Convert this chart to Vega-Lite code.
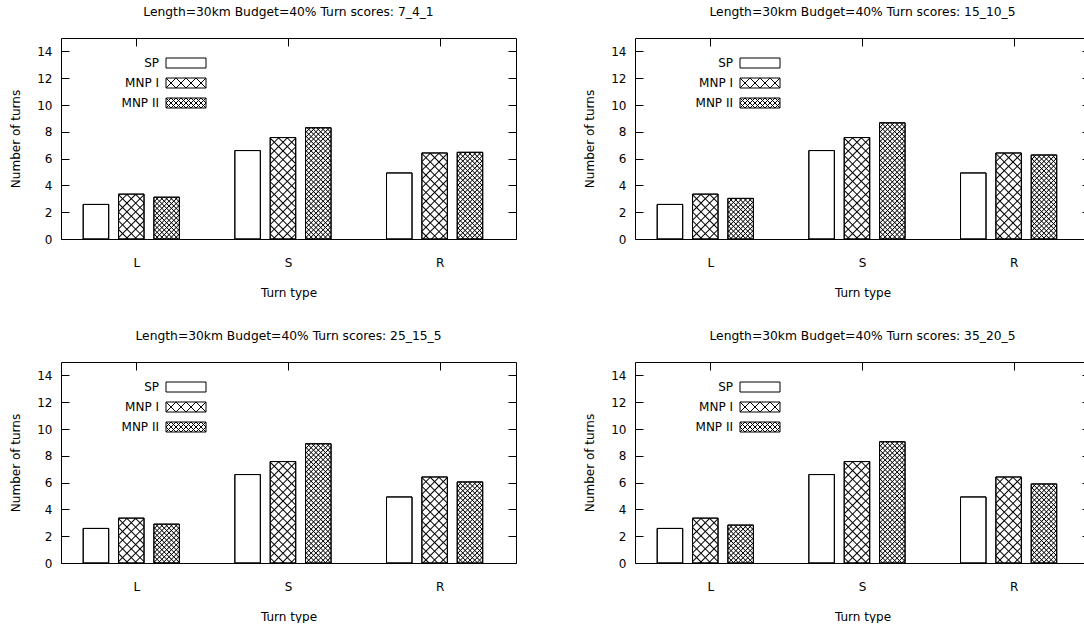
{
"$schema":"https://vega.github.io/schema/vega-lite/v6.json",
"padding":{"left":9,"top":5,"right":0,"bottom":0},
"datasets":{
"p1":[{"turn":"L","method":"SP","value":2.58},{"turn":"L","method":"MNP I","value":3.35},{"turn":"L","method":"MNP II","value":3.12},{"turn":"S","method":"SP","value":6.6},{"turn":"S","method":"MNP I","value":7.57},{"turn":"S","method":"MNP II","value":8.3},{"turn":"R","method":"SP","value":4.93},{"turn":"R","method":"MNP I","value":6.42},{"turn":"R","method":"MNP II","value":6.47}],
"p2":[{"turn":"L","method":"SP","value":2.58},{"turn":"L","method":"MNP I","value":3.35},{"turn":"L","method":"MNP II","value":3.03},{"turn":"S","method":"SP","value":6.6},{"turn":"S","method":"MNP I","value":7.57},{"turn":"S","method":"MNP II","value":8.67},{"turn":"R","method":"SP","value":4.93},{"turn":"R","method":"MNP I","value":6.42},{"turn":"R","method":"MNP II","value":6.27}],
"p3":[{"turn":"L","method":"SP","value":2.58},{"turn":"L","method":"MNP I","value":3.35},{"turn":"L","method":"MNP II","value":2.9},{"turn":"S","method":"SP","value":6.6},{"turn":"S","method":"MNP I","value":7.57},{"turn":"S","method":"MNP II","value":8.9},{"turn":"R","method":"SP","value":4.93},{"turn":"R","method":"MNP I","value":6.42},{"turn":"R","method":"MNP II","value":6.05}],
"p4":[{"turn":"L","method":"SP","value":2.58},{"turn":"L","method":"MNP I","value":3.35},{"turn":"L","method":"MNP II","value":2.83},{"turn":"S","method":"SP","value":6.6},{"turn":"S","method":"MNP I","value":7.57},{"turn":"S","method":"MNP II","value":9.05},{"turn":"R","method":"SP","value":4.93},{"turn":"R","method":"MNP I","value":6.42},{"turn":"R","method":"MNP II","value":5.9}]
},
"config":{
"font":"DejaVu Sans",
"view":{"stroke":"black","strokeWidth":1},
"axis":{"domain":false,"grid":false,"labelFont":"DejaVu Sans","labelFontSize":12,"labelColor":"black","titleFont":"DejaVu Sans","titleFontSize":12,"titleFontWeight":"normal","titleColor":"black","tickColor":"black","tickWidth":1,"tickSize":-8},
"title":{"font":"DejaVu Sans","fontSize":12.3,"fontWeight":"normal","color":"black","offset":19},
"style":{
"hIa":{"color":{"gradient":"linear","x1":0,"y1":0,"x2":0.1479,"y2":1.1132,"stops":[{"offset":0,"color":"#000"},{"offset":0.0065,"color":"transparent"},{"offset":0.0335,"color":"transparent"},{"offset":0.04,"color":"#000"},{"offset":0.0465,"color":"transparent"},{"offset":0.0735,"color":"transparent"},{"offset":0.08,"color":"#000"},{"offset":0.0865,"color":"transparent"},{"offset":0.1135,"color":"transparent"},{"offset":0.12,"color":"#000"},{"offset":0.1265,"color":"transparent"},{"offset":0.1535,"color":"transparent"},{"offset":0.16,"color":"#000"},{"offset":0.1665,"color":"transparent"},{"offset":0.1935,"color":"transparent"},{"offset":0.2,"color":"#000"},{"offset":0.2065,"color":"transparent"},{"offset":0.2335,"color":"transparent"},{"offset":0.24,"color":"#000"},{"offset":0.2465,"color":"transparent"},{"offset":0.2735,"color":"transparent"},{"offset":0.28,"color":"#000"},{"offset":0.2865,"color":"transparent"},{"offset":0.3135,"color":"transparent"},{"offset":0.32,"color":"#000"},{"offset":0.3265,"color":"transparent"},{"offset":0.3535,"color":"transparent"},{"offset":0.36,"color":"#000"},{"offset":0.3665,"color":"transparent"},{"offset":0.3935,"color":"transparent"},{"offset":0.4,"color":"#000"},{"offset":0.4065,"color":"transparent"},{"offset":0.4335,"color":"transparent"},{"offset":0.44,"color":"#000"},{"offset":0.4465,"color":"transparent"},{"offset":0.4735,"color":"transparent"},{"offset":0.48,"color":"#000"},{"offset":0.4865,"color":"transparent"},{"offset":0.5135,"color":"transparent"},{"offset":0.52,"color":"#000"},{"offset":0.5265,"color":"transparent"},{"offset":0.5535,"color":"transparent"},{"offset":0.56,"color":"#000"},{"offset":0.5665,"color":"transparent"},{"offset":0.5935,"color":"transparent"},{"offset":0.6,"color":"#000"},{"offset":0.6065,"color":"transparent"},{"offset":0.6335,"color":"transparent"},{"offset":0.64,"color":"#000"},{"offset":0.6465,"color":"transparent"},{"offset":0.6735,"color":"transparent"},{"offset":0.68,"color":"#000"},{"offset":0.6865,"color":"transparent"},{"offset":0.7135,"color":"transparent"},{"offset":0.72,"color":"#000"},{"offset":0.7265,"color":"transparent"}]}},
"hIb":{"color":{"gradient":"linear","x1":1,"y1":0,"x2":0.8521,"y2":1.1132,"stops":[{"offset":0,"color":"#000"},{"offset":0.0065,"color":"transparent"},{"offset":0.0335,"color":"transparent"},{"offset":0.04,"color":"#000"},{"offset":0.0465,"color":"transparent"},{"offset":0.0735,"color":"transparent"},{"offset":0.08,"color":"#000"},{"offset":0.0865,"color":"transparent"},{"offset":0.1135,"color":"transparent"},{"offset":0.12,"color":"#000"},{"offset":0.1265,"color":"transparent"},{"offset":0.1535,"color":"transparent"},{"offset":0.16,"color":"#000"},{"offset":0.1665,"color":"transparent"},{"offset":0.1935,"color":"transparent"},{"offset":0.2,"color":"#000"},{"offset":0.2065,"color":"transparent"},{"offset":0.2335,"color":"transparent"},{"offset":0.24,"color":"#000"},{"offset":0.2465,"color":"transparent"},{"offset":0.2735,"color":"transparent"},{"offset":0.28,"color":"#000"},{"offset":0.2865,"color":"transparent"},{"offset":0.3135,"color":"transparent"},{"offset":0.32,"color":"#000"},{"offset":0.3265,"color":"transparent"},{"offset":0.3535,"color":"transparent"},{"offset":0.36,"color":"#000"},{"offset":0.3665,"color":"transparent"},{"offset":0.3935,"color":"transparent"},{"offset":0.4,"color":"#000"},{"offset":0.4065,"color":"transparent"},{"offset":0.4335,"color":"transparent"},{"offset":0.44,"color":"#000"},{"offset":0.4465,"color":"transparent"},{"offset":0.4735,"color":"transparent"},{"offset":0.48,"color":"#000"},{"offset":0.4865,"color":"transparent"},{"offset":0.5135,"color":"transparent"},{"offset":0.52,"color":"#000"},{"offset":0.5265,"color":"transparent"},{"offset":0.5535,"color":"transparent"},{"offset":0.56,"color":"#000"},{"offset":0.5665,"color":"transparent"},{"offset":0.5935,"color":"transparent"},{"offset":0.6,"color":"#000"},{"offset":0.6065,"color":"transparent"},{"offset":0.6335,"color":"transparent"},{"offset":0.64,"color":"#000"},{"offset":0.6465,"color":"transparent"},{"offset":0.6735,"color":"transparent"},{"offset":0.68,"color":"#000"},{"offset":0.6865,"color":"transparent"},{"offset":0.7135,"color":"transparent"},{"offset":0.72,"color":"#000"},{"offset":0.7265,"color":"transparent"}]}},
"hIIa":{"color":{"gradient":"linear","x1":0,"y1":0,"x2":0.1479,"y2":1.1132,"stops":[{"offset":0,"color":"#000"},{"offset":0.005,"color":"transparent"},{"offset":0.017,"color":"transparent"},{"offset":0.022,"color":"#000"},{"offset":0.027,"color":"transparent"},{"offset":0.039,"color":"transparent"},{"offset":0.044,"color":"#000"},{"offset":0.049,"color":"transparent"},{"offset":0.061,"color":"transparent"},{"offset":0.066,"color":"#000"},{"offset":0.071,"color":"transparent"},{"offset":0.083,"color":"transparent"},{"offset":0.088,"color":"#000"},{"offset":0.093,"color":"transparent"},{"offset":0.105,"color":"transparent"},{"offset":0.11,"color":"#000"},{"offset":0.115,"color":"transparent"},{"offset":0.127,"color":"transparent"},{"offset":0.132,"color":"#000"},{"offset":0.137,"color":"transparent"},{"offset":0.149,"color":"transparent"},{"offset":0.154,"color":"#000"},{"offset":0.159,"color":"transparent"},{"offset":0.171,"color":"transparent"},{"offset":0.176,"color":"#000"},{"offset":0.181,"color":"transparent"},{"offset":0.193,"color":"transparent"},{"offset":0.198,"color":"#000"},{"offset":0.203,"color":"transparent"},{"offset":0.215,"color":"transparent"},{"offset":0.22,"color":"#000"},{"offset":0.225,"color":"transparent"},{"offset":0.237,"color":"transparent"},{"offset":0.242,"color":"#000"},{"offset":0.247,"color":"transparent"},{"offset":0.259,"color":"transparent"},{"offset":0.264,"color":"#000"},{"offset":0.269,"color":"transparent"},{"offset":0.281,"color":"transparent"},{"offset":0.286,"color":"#000"},{"offset":0.291,"color":"transparent"},{"offset":0.303,"color":"transparent"},{"offset":0.308,"color":"#000"},{"offset":0.313,"color":"transparent"},{"offset":0.325,"color":"transparent"},{"offset":0.33,"color":"#000"},{"offset":0.335,"color":"transparent"},{"offset":0.347,"color":"transparent"},{"offset":0.352,"color":"#000"},{"offset":0.357,"color":"transparent"},{"offset":0.369,"color":"transparent"},{"offset":0.374,"color":"#000"},{"offset":0.379,"color":"transparent"},{"offset":0.391,"color":"transparent"},{"offset":0.396,"color":"#000"},{"offset":0.401,"color":"transparent"},{"offset":0.413,"color":"transparent"},{"offset":0.418,"color":"#000"},{"offset":0.423,"color":"transparent"},{"offset":0.435,"color":"transparent"},{"offset":0.44,"color":"#000"},{"offset":0.445,"color":"transparent"},{"offset":0.457,"color":"transparent"},{"offset":0.462,"color":"#000"},{"offset":0.467,"color":"transparent"},{"offset":0.479,"color":"transparent"},{"offset":0.484,"color":"#000"},{"offset":0.489,"color":"transparent"},{"offset":0.501,"color":"transparent"},{"offset":0.506,"color":"#000"},{"offset":0.511,"color":"transparent"},{"offset":0.523,"color":"transparent"},{"offset":0.528,"color":"#000"},{"offset":0.533,"color":"transparent"},{"offset":0.545,"color":"transparent"},{"offset":0.55,"color":"#000"},{"offset":0.555,"color":"transparent"},{"offset":0.567,"color":"transparent"},{"offset":0.572,"color":"#000"},{"offset":0.577,"color":"transparent"},{"offset":0.589,"color":"transparent"},{"offset":0.594,"color":"#000"},{"offset":0.599,"color":"transparent"},{"offset":0.611,"color":"transparent"},{"offset":0.616,"color":"#000"},{"offset":0.621,"color":"transparent"},{"offset":0.633,"color":"transparent"},{"offset":0.638,"color":"#000"},{"offset":0.643,"color":"transparent"},{"offset":0.655,"color":"transparent"},{"offset":0.66,"color":"#000"},{"offset":0.665,"color":"transparent"},{"offset":0.677,"color":"transparent"},{"offset":0.682,"color":"#000"},{"offset":0.687,"color":"transparent"},{"offset":0.699,"color":"transparent"},{"offset":0.704,"color":"#000"},{"offset":0.709,"color":"transparent"}]}},
"hIIb":{"color":{"gradient":"linear","x1":1,"y1":0,"x2":0.8521,"y2":1.1132,"stops":[{"offset":0,"color":"#000"},{"offset":0.005,"color":"transparent"},{"offset":0.017,"color":"transparent"},{"offset":0.022,"color":"#000"},{"offset":0.027,"color":"transparent"},{"offset":0.039,"color":"transparent"},{"offset":0.044,"color":"#000"},{"offset":0.049,"color":"transparent"},{"offset":0.061,"color":"transparent"},{"offset":0.066,"color":"#000"},{"offset":0.071,"color":"transparent"},{"offset":0.083,"color":"transparent"},{"offset":0.088,"color":"#000"},{"offset":0.093,"color":"transparent"},{"offset":0.105,"color":"transparent"},{"offset":0.11,"color":"#000"},{"offset":0.115,"color":"transparent"},{"offset":0.127,"color":"transparent"},{"offset":0.132,"color":"#000"},{"offset":0.137,"color":"transparent"},{"offset":0.149,"color":"transparent"},{"offset":0.154,"color":"#000"},{"offset":0.159,"color":"transparent"},{"offset":0.171,"color":"transparent"},{"offset":0.176,"color":"#000"},{"offset":0.181,"color":"transparent"},{"offset":0.193,"color":"transparent"},{"offset":0.198,"color":"#000"},{"offset":0.203,"color":"transparent"},{"offset":0.215,"color":"transparent"},{"offset":0.22,"color":"#000"},{"offset":0.225,"color":"transparent"},{"offset":0.237,"color":"transparent"},{"offset":0.242,"color":"#000"},{"offset":0.247,"color":"transparent"},{"offset":0.259,"color":"transparent"},{"offset":0.264,"color":"#000"},{"offset":0.269,"color":"transparent"},{"offset":0.281,"color":"transparent"},{"offset":0.286,"color":"#000"},{"offset":0.291,"color":"transparent"},{"offset":0.303,"color":"transparent"},{"offset":0.308,"color":"#000"},{"offset":0.313,"color":"transparent"},{"offset":0.325,"color":"transparent"},{"offset":0.33,"color":"#000"},{"offset":0.335,"color":"transparent"},{"offset":0.347,"color":"transparent"},{"offset":0.352,"color":"#000"},{"offset":0.357,"color":"transparent"},{"offset":0.369,"color":"transparent"},{"offset":0.374,"color":"#000"},{"offset":0.379,"color":"transparent"},{"offset":0.391,"color":"transparent"},{"offset":0.396,"color":"#000"},{"offset":0.401,"color":"transparent"},{"offset":0.413,"color":"transparent"},{"offset":0.418,"color":"#000"},{"offset":0.423,"color":"transparent"},{"offset":0.435,"color":"transparent"},{"offset":0.44,"color":"#000"},{"offset":0.445,"color":"transparent"},{"offset":0.457,"color":"transparent"},{"offset":0.462,"color":"#000"},{"offset":0.467,"color":"transparent"},{"offset":0.479,"color":"transparent"},{"offset":0.484,"color":"#000"},{"offset":0.489,"color":"transparent"},{"offset":0.501,"color":"transparent"},{"offset":0.506,"color":"#000"},{"offset":0.511,"color":"transparent"},{"offset":0.523,"color":"transparent"},{"offset":0.528,"color":"#000"},{"offset":0.533,"color":"transparent"},{"offset":0.545,"color":"transparent"},{"offset":0.55,"color":"#000"},{"offset":0.555,"color":"transparent"},{"offset":0.567,"color":"transparent"},{"offset":0.572,"color":"#000"},{"offset":0.577,"color":"transparent"},{"offset":0.589,"color":"transparent"},{"offset":0.594,"color":"#000"},{"offset":0.599,"color":"transparent"},{"offset":0.611,"color":"transparent"},{"offset":0.616,"color":"#000"},{"offset":0.621,"color":"transparent"},{"offset":0.633,"color":"transparent"},{"offset":0.638,"color":"#000"},{"offset":0.643,"color":"transparent"},{"offset":0.655,"color":"transparent"},{"offset":0.66,"color":"#000"},{"offset":0.665,"color":"transparent"},{"offset":0.677,"color":"transparent"},{"offset":0.682,"color":"#000"},{"offset":0.687,"color":"transparent"},{"offset":0.699,"color":"transparent"},{"offset":0.704,"color":"#000"},{"offset":0.709,"color":"transparent"}]}}
}
},
"spacing":30,
"resolve":{"scale":{"shape":"independent","xOffset":"independent"},"legend":{"shape":"independent"}},
"vconcat":[
{"spacing":66,"resolve":{"scale":{"shape":"independent","xOffset":"independent"},"legend":{"shape":"independent"}},
"hconcat":[
{"title":"Length=30km Budget=40% Turn scores: 7_4_1","width":455,"height":201,"data":{"name":"p1"},
"encoding":{"x":{"field":"turn","type":"nominal","sort":["L","S","R"],"scale":{"domain":["L","S","R"],"paddingInner":0,"paddingOuter":0},"axis":null},"xOffset":{"field":"method","type":"nominal","scale":{"domain":["SP","MNP I","MNP II"],"paddingInner":0.2786,"paddingOuter":0.7846,"align":0.4}},"y":{"field":"value","type":"quantitative","stack":null,"scale":{"domain":[0,15],"nice":false},"axis":null}},
"layer":[
{"mark":{"type":"bar","fill":"white","stroke":"black","strokeWidth":1},"encoding":{"x":{"field":"turn","type":"nominal","sort":["L","S","R"],"axis":{"orient":"bottom","title":"Turn type","labelAngle":0,"labelPadding":26,"titlePadding":19}},"y":{"field":"value","type":"quantitative","stack":null,"axis":{"orient":"left","title":"Number of turns","values":[0,2,4,6,8,10,12,14],"ticks":false,"labelPadding":9,"titlePadding":14}}}},
{"transform":[{"filter":"datum.method === 'MNP I'"}],"mark":{"type":"bar","style":"hIa","clip":true,"y2Offset":192},"encoding":{"y":{"field":"value","type":"quantitative","axis":{"orient":"left","labels":false,"title":null,"values":[0,2,4,6,8,10,12,14]}},"y2":{"field":"value"}}},
{"transform":[{"filter":"datum.method === 'MNP I'"}],"mark":{"type":"bar","style":"hIb","clip":true,"y2Offset":192},"encoding":{"y2":{"field":"value"}}},
{"transform":[{"filter":"datum.method === 'MNP II'"}],"mark":{"type":"bar","style":"hIIa","clip":true,"y2Offset":192},"encoding":{"y2":{"field":"value"}}},
{"transform":[{"filter":"datum.method === 'MNP II'"}],"mark":{"type":"bar","style":"hIIb","clip":true,"y2Offset":192},"encoding":{"y2":{"field":"value"}}},
{"mark":{"type":"bar","fillOpacity":0,"stroke":"black","strokeWidth":1},"encoding":{"x":{"field":"turn","type":"nominal","sort":["L","S","R"],"axis":{"orient":"top","labels":false,"title":null}},"y":{"field":"value","type":"quantitative","stack":null,"axis":{"orient":"right","labels":false,"title":null,"values":[0,2,4,6,8,10,12,14]}}}},
{"transform":[{"filter":"false"}],"mark":{"type":"point","opacity":1},"encoding":{"shape":{"field":"method","type":"nominal","scale":{"domain":["SP","MNP I","MNP II"],"range":["M-4,-1H4V1H-4Z","M-4,-1H4V1H-4ZM-4,-1L-2,1M-2,-1L0,1M0,-1L2,1M2,-1L4,1M-4,1L-2,-1M-2,1L0,-1M0,1L2,-1M2,1L4,-1","M-4,-1H4V1H-4ZM-4,0L-3,1M-4,-1L-2,1M-3,-1L-1,1M-2,-1L0,1M-1,-1L1,1M0,-1L2,1M1,-1L3,1M2,-1L4,1M3,-1L4,0M-4,0L-3,-1M-4,1L-2,-1M-3,1L-1,-1M-2,1L0,-1M-1,1L1,-1M0,1L2,-1M1,1L3,-1M2,1L4,-1M3,1L4,0"]},"legend":{"title":null,"orient":"none","legendX":119,"legendY":19,"symbolSize":100,"labelAlign":"right","labelOffset":-33,"rowPadding":6,"labelFont":"DejaVu Sans","labelFontSize":12,"labelColor":"black","labelLimit":0,"symbolStrokeWidth":1,"symbolFillColor":"white","symbolStrokeColor":"black","symbolOpacity":1,"encode":{"symbols":{"update":{"fill":{"value":"white"},"stroke":{"value":"black"},"strokeWidth":{"value":1},"opacity":{"value":1}}}}}}}}
],
"resolve":{"axis":{"x":"independent","y":"independent"}}},
{"title":"Length=30km Budget=40% Turn scores: 15_10_5","width":455,"height":201,"data":{"name":"p2"},
"encoding":{"x":{"field":"turn","type":"nominal","sort":["L","S","R"],"scale":{"domain":["L","S","R"],"paddingInner":0,"paddingOuter":0},"axis":null},"xOffset":{"field":"method","type":"nominal","scale":{"domain":["SP","MNP I","MNP II"],"paddingInner":0.2786,"paddingOuter":0.7846,"align":0.4}},"y":{"field":"value","type":"quantitative","stack":null,"scale":{"domain":[0,15],"nice":false},"axis":null}},
"layer":[
{"mark":{"type":"bar","fill":"white","stroke":"black","strokeWidth":1},"encoding":{"x":{"field":"turn","type":"nominal","sort":["L","S","R"],"axis":{"orient":"bottom","title":"Turn type","labelAngle":0,"labelPadding":26,"titlePadding":19}},"y":{"field":"value","type":"quantitative","stack":null,"axis":{"orient":"left","title":"Number of turns","values":[0,2,4,6,8,10,12,14],"ticks":false,"labelPadding":9,"titlePadding":14}}}},
{"transform":[{"filter":"datum.method === 'MNP I'"}],"mark":{"type":"bar","style":"hIa","clip":true,"y2Offset":192},"encoding":{"y":{"field":"value","type":"quantitative","axis":{"orient":"left","labels":false,"title":null,"values":[0,2,4,6,8,10,12,14]}},"y2":{"field":"value"}}},
{"transform":[{"filter":"datum.method === 'MNP I'"}],"mark":{"type":"bar","style":"hIb","clip":true,"y2Offset":192},"encoding":{"y2":{"field":"value"}}},
{"transform":[{"filter":"datum.method === 'MNP II'"}],"mark":{"type":"bar","style":"hIIa","clip":true,"y2Offset":192},"encoding":{"y2":{"field":"value"}}},
{"transform":[{"filter":"datum.method === 'MNP II'"}],"mark":{"type":"bar","style":"hIIb","clip":true,"y2Offset":192},"encoding":{"y2":{"field":"value"}}},
{"mark":{"type":"bar","fillOpacity":0,"stroke":"black","strokeWidth":1},"encoding":{"x":{"field":"turn","type":"nominal","sort":["L","S","R"],"axis":{"orient":"top","labels":false,"title":null}},"y":{"field":"value","type":"quantitative","stack":null,"axis":{"orient":"right","labels":false,"title":null,"values":[0,2,4,6,8,10,12,14]}}}},
{"transform":[{"filter":"false"}],"mark":{"type":"point","opacity":1},"encoding":{"shape":{"field":"method","type":"nominal","scale":{"domain":["SP","MNP I","MNP II"],"range":["M-4,-1H4V1H-4Z","M-4,-1H4V1H-4ZM-4,-1L-2,1M-2,-1L0,1M0,-1L2,1M2,-1L4,1M-4,1L-2,-1M-2,1L0,-1M0,1L2,-1M2,1L4,-1","M-4,-1H4V1H-4ZM-4,0L-3,1M-4,-1L-2,1M-3,-1L-1,1M-2,-1L0,1M-1,-1L1,1M0,-1L2,1M1,-1L3,1M2,-1L4,1M3,-1L4,0M-4,0L-3,-1M-4,1L-2,-1M-3,1L-1,-1M-2,1L0,-1M-1,1L1,-1M0,1L2,-1M1,1L3,-1M2,1L4,-1M3,1L4,0"]},"legend":{"title":null,"orient":"none","legendX":119,"legendY":19,"symbolSize":100,"labelAlign":"right","labelOffset":-33,"rowPadding":6,"labelFont":"DejaVu Sans","labelFontSize":12,"labelColor":"black","labelLimit":0,"symbolStrokeWidth":1,"symbolFillColor":"white","symbolStrokeColor":"black","symbolOpacity":1,"encode":{"symbols":{"update":{"fill":{"value":"white"},"stroke":{"value":"black"},"strokeWidth":{"value":1},"opacity":{"value":1}}}}}}}}
],
"resolve":{"axis":{"x":"independent","y":"independent"}}}
]},
{"spacing":66,"resolve":{"scale":{"shape":"independent","xOffset":"independent"},"legend":{"shape":"independent"}},
"hconcat":[
{"title":"Length=30km Budget=40% Turn scores: 25_15_5","width":455,"height":201,"data":{"name":"p3"},
"encoding":{"x":{"field":"turn","type":"nominal","sort":["L","S","R"],"scale":{"domain":["L","S","R"],"paddingInner":0,"paddingOuter":0},"axis":null},"xOffset":{"field":"method","type":"nominal","scale":{"domain":["SP","MNP I","MNP II"],"paddingInner":0.2786,"paddingOuter":0.7846,"align":0.4}},"y":{"field":"value","type":"quantitative","stack":null,"scale":{"domain":[0,15],"nice":false},"axis":null}},
"layer":[
{"mark":{"type":"bar","fill":"white","stroke":"black","strokeWidth":1},"encoding":{"x":{"field":"turn","type":"nominal","sort":["L","S","R"],"axis":{"orient":"bottom","title":"Turn type","labelAngle":0,"labelPadding":26,"titlePadding":19}},"y":{"field":"value","type":"quantitative","stack":null,"axis":{"orient":"left","title":"Number of turns","values":[0,2,4,6,8,10,12,14],"ticks":false,"labelPadding":9,"titlePadding":14}}}},
{"transform":[{"filter":"datum.method === 'MNP I'"}],"mark":{"type":"bar","style":"hIa","clip":true,"y2Offset":192},"encoding":{"y":{"field":"value","type":"quantitative","axis":{"orient":"left","labels":false,"title":null,"values":[0,2,4,6,8,10,12,14]}},"y2":{"field":"value"}}},
{"transform":[{"filter":"datum.method === 'MNP I'"}],"mark":{"type":"bar","style":"hIb","clip":true,"y2Offset":192},"encoding":{"y2":{"field":"value"}}},
{"transform":[{"filter":"datum.method === 'MNP II'"}],"mark":{"type":"bar","style":"hIIa","clip":true,"y2Offset":192},"encoding":{"y2":{"field":"value"}}},
{"transform":[{"filter":"datum.method === 'MNP II'"}],"mark":{"type":"bar","style":"hIIb","clip":true,"y2Offset":192},"encoding":{"y2":{"field":"value"}}},
{"mark":{"type":"bar","fillOpacity":0,"stroke":"black","strokeWidth":1},"encoding":{"x":{"field":"turn","type":"nominal","sort":["L","S","R"],"axis":{"orient":"top","labels":false,"title":null}},"y":{"field":"value","type":"quantitative","stack":null,"axis":{"orient":"right","labels":false,"title":null,"values":[0,2,4,6,8,10,12,14]}}}},
{"transform":[{"filter":"false"}],"mark":{"type":"point","opacity":1},"encoding":{"shape":{"field":"method","type":"nominal","scale":{"domain":["SP","MNP I","MNP II"],"range":["M-4,-1H4V1H-4Z","M-4,-1H4V1H-4ZM-4,-1L-2,1M-2,-1L0,1M0,-1L2,1M2,-1L4,1M-4,1L-2,-1M-2,1L0,-1M0,1L2,-1M2,1L4,-1","M-4,-1H4V1H-4ZM-4,0L-3,1M-4,-1L-2,1M-3,-1L-1,1M-2,-1L0,1M-1,-1L1,1M0,-1L2,1M1,-1L3,1M2,-1L4,1M3,-1L4,0M-4,0L-3,-1M-4,1L-2,-1M-3,1L-1,-1M-2,1L0,-1M-1,1L1,-1M0,1L2,-1M1,1L3,-1M2,1L4,-1M3,1L4,0"]},"legend":{"title":null,"orient":"none","legendX":119,"legendY":19,"symbolSize":100,"labelAlign":"right","labelOffset":-33,"rowPadding":6,"labelFont":"DejaVu Sans","labelFontSize":12,"labelColor":"black","labelLimit":0,"symbolStrokeWidth":1,"symbolFillColor":"white","symbolStrokeColor":"black","symbolOpacity":1,"encode":{"symbols":{"update":{"fill":{"value":"white"},"stroke":{"value":"black"},"strokeWidth":{"value":1},"opacity":{"value":1}}}}}}}}
],
"resolve":{"axis":{"x":"independent","y":"independent"}}},
{"title":"Length=30km Budget=40% Turn scores: 35_20_5","width":455,"height":201,"data":{"name":"p4"},
"encoding":{"x":{"field":"turn","type":"nominal","sort":["L","S","R"],"scale":{"domain":["L","S","R"],"paddingInner":0,"paddingOuter":0},"axis":null},"xOffset":{"field":"method","type":"nominal","scale":{"domain":["SP","MNP I","MNP II"],"paddingInner":0.2786,"paddingOuter":0.7846,"align":0.4}},"y":{"field":"value","type":"quantitative","stack":null,"scale":{"domain":[0,15],"nice":false},"axis":null}},
"layer":[
{"mark":{"type":"bar","fill":"white","stroke":"black","strokeWidth":1},"encoding":{"x":{"field":"turn","type":"nominal","sort":["L","S","R"],"axis":{"orient":"bottom","title":"Turn type","labelAngle":0,"labelPadding":26,"titlePadding":19}},"y":{"field":"value","type":"quantitative","stack":null,"axis":{"orient":"left","title":"Number of turns","values":[0,2,4,6,8,10,12,14],"ticks":false,"labelPadding":9,"titlePadding":14}}}},
{"transform":[{"filter":"datum.method === 'MNP I'"}],"mark":{"type":"bar","style":"hIa","clip":true,"y2Offset":192},"encoding":{"y":{"field":"value","type":"quantitative","axis":{"orient":"left","labels":false,"title":null,"values":[0,2,4,6,8,10,12,14]}},"y2":{"field":"value"}}},
{"transform":[{"filter":"datum.method === 'MNP I'"}],"mark":{"type":"bar","style":"hIb","clip":true,"y2Offset":192},"encoding":{"y2":{"field":"value"}}},
{"transform":[{"filter":"datum.method === 'MNP II'"}],"mark":{"type":"bar","style":"hIIa","clip":true,"y2Offset":192},"encoding":{"y2":{"field":"value"}}},
{"transform":[{"filter":"datum.method === 'MNP II'"}],"mark":{"type":"bar","style":"hIIb","clip":true,"y2Offset":192},"encoding":{"y2":{"field":"value"}}},
{"mark":{"type":"bar","fillOpacity":0,"stroke":"black","strokeWidth":1},"encoding":{"x":{"field":"turn","type":"nominal","sort":["L","S","R"],"axis":{"orient":"top","labels":false,"title":null}},"y":{"field":"value","type":"quantitative","stack":null,"axis":{"orient":"right","labels":false,"title":null,"values":[0,2,4,6,8,10,12,14]}}}},
{"transform":[{"filter":"false"}],"mark":{"type":"point","opacity":1},"encoding":{"shape":{"field":"method","type":"nominal","scale":{"domain":["SP","MNP I","MNP II"],"range":["M-4,-1H4V1H-4Z","M-4,-1H4V1H-4ZM-4,-1L-2,1M-2,-1L0,1M0,-1L2,1M2,-1L4,1M-4,1L-2,-1M-2,1L0,-1M0,1L2,-1M2,1L4,-1","M-4,-1H4V1H-4ZM-4,0L-3,1M-4,-1L-2,1M-3,-1L-1,1M-2,-1L0,1M-1,-1L1,1M0,-1L2,1M1,-1L3,1M2,-1L4,1M3,-1L4,0M-4,0L-3,-1M-4,1L-2,-1M-3,1L-1,-1M-2,1L0,-1M-1,1L1,-1M0,1L2,-1M1,1L3,-1M2,1L4,-1M3,1L4,0"]},"legend":{"title":null,"orient":"none","legendX":119,"legendY":19,"symbolSize":100,"labelAlign":"right","labelOffset":-33,"rowPadding":6,"labelFont":"DejaVu Sans","labelFontSize":12,"labelColor":"black","labelLimit":0,"symbolStrokeWidth":1,"symbolFillColor":"white","symbolStrokeColor":"black","symbolOpacity":1,"encode":{"symbols":{"update":{"fill":{"value":"white"},"stroke":{"value":"black"},"strokeWidth":{"value":1},"opacity":{"value":1}}}}}}}}
],
"resolve":{"axis":{"x":"independent","y":"independent"}}}
]}
]
}
